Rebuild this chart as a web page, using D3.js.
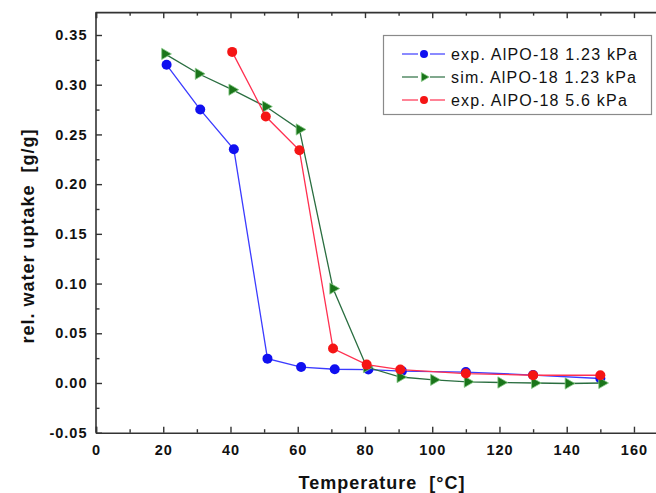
<!DOCTYPE html>
<html>
<head>
<meta charset="utf-8">
<script src="https://cdn.jsdelivr.net/npm/d3@7"></script>
<style>
  body { margin: 0; background: #fff; }
  svg { display: block; font-family: "Liberation Sans", Arial, sans-serif; }
  text { white-space: pre; }
</style>
</head>
<body>
<script>
// data
var expLowT = [21, 31, 41, 51, 61, 71, 81, 91, 110, 130, 150]
var expLowY = [0.320, 0.275, 0.235, 0.0245, 0.016, 0.0138, 0.0135, 0.012, 0.011, 0.008, 0.0045]

var simLowT = [20.5, 30.5, 40.5, 50.5, 60.5, 70.5, 80.5, 90.5, 100.5, 110.5, 120.5, 130.5, 140.5, 150.5]
var simLowY = [0.331, 0.311, 0.295, 0.278, 0.255, 0.095, 0.016, 0.006, 0.0032, 0.0012, 0.0005, 0.0, -0.0005, 0.0]

var expHighT = [40.5, 50.5, 60.5, 70.5, 80.5, 90.5, 110, 130, 150]
var expHighY = [0.333, 0.268, 0.234, 0.0346, 0.0185, 0.0135, 0.0095, 0.0078, 0.0078]

var xMajor = [0, 20, 40, 60, 80, 100, 120, 140, 160]
var xMinor = [10, 30, 50, 70, 90, 110, 130, 150]
var yMajor = [-0.05, 0.00, 0.05, 0.10, 0.15, 0.20, 0.25, 0.30, 0.35]
var yMinor = [-0.025, 0.025, 0.075, 0.125, 0.175, 0.225, 0.275, 0.325]

var seriesNames = ["exp. AlPO-18 1.23 kPa", "sim. AlPO-18 1.23 kPa", "exp. AlPO-18 5.6 kPa"]

var width = 656, height = 493

var svg = d3.select("body").append("svg")
  .attr("width", width)
  .attr("height", height)

var x = d3.scaleLinear().domain([0, 167]).range([96, 657.5])
var y = d3.scaleLinear().domain([-0.05, 0.35]).range([432.7, 35])
var yTop = 0.373

function zip(xs, ys) { return xs.map((t, i) => ({ t: t, v: ys[i] })) }

var series = [
  { name: seriesNames[0], data: zip(expLowT, expLowY), line: "#3b3bff", fill: "#1010f0", shape: "circle" },
  { name: seriesNames[1], data: zip(simLowT, simLowY), line: "#2a6e40", fill: "#1a751a", shape: "tri" },
  { name: seriesNames[2], data: zip(expHighT, expHighY), line: "#ff3050", fill: "#f51515", shape: "circle" }
]

var axisColor = "#333"

// axes
var leftAxis = svg.append("g").attr("transform", "translate(" + x(0) + ",0)")
  .call(d3.axisLeft(y).tickValues(yMajor).tickSize(-6).tickPadding(8.5).tickFormat(d => d3.format(".2f")(d).replace("−", "-")))
leftAxis.select(".domain").attr("d", "M0," + y(yTop) + "V" + y(-0.05))
leftAxis.append("g").call(d3.axisLeft(y).tickValues(yMinor).tickSize(-3.5).tickFormat(""))
  .select(".domain").remove()

var bottomAxis = svg.append("g").attr("transform", "translate(0," + y(-0.05) + ")")
  .call(d3.axisBottom(x).tickValues(xMajor).tickSize(-6).tickPadding(12).tickFormat(d3.format("d")))
bottomAxis.append("g").call(d3.axisBottom(x).tickValues(xMinor).tickSize(-3.5).tickFormat(""))
  .select(".domain").remove()

var topAxis = svg.append("g").attr("transform", "translate(0," + y(yTop) + ")")
  .call(d3.axisTop(x).tickValues(xMajor).tickSize(-6).tickFormat(""))
topAxis.append("g").call(d3.axisTop(x).tickValues(xMinor).tickSize(-3.5).tickFormat(""))
  .select(".domain").remove()

svg.selectAll(".domain").attr("stroke", axisColor).attr("stroke-width", 1.6)
svg.selectAll(".tick line").attr("stroke", axisColor).attr("stroke-width", 1.4)
svg.selectAll(".tick text")
  .attr("fill", "#111")
  .style("font-size", "14.5px")
  .style("font-weight", "bold")
  .style("letter-spacing", "1px")
  .style("font-family", "'Liberation Sans', Arial, sans-serif")

// axis titles
svg.append("text")
  .attr("x", 382).attr("y", 489)
  .attr("text-anchor", "middle")
  .style("font-size", "18px").style("font-weight", "bold").style("letter-spacing", "1px")
  .attr("fill", "#111")
  .text("Temperature  [°C]")

svg.append("text")
  .attr("transform", "translate(34,236) rotate(-90)")
  .attr("text-anchor", "middle")
  .style("font-size", "18px").style("font-weight", "bold").style("letter-spacing", "1px")
  .attr("fill", "#111")
  .text("rel. water uptake  [g/g]")

// lines and markers
var line = d3.line().x(d => x(d.t)).y(d => y(d.v))

function drawMarker(g, s, r) {
  if (s.shape === "circle") {
    g.append("circle").attr("r", r).attr("fill", s.fill)
  } else {
    g.append("path").attr("d", d3.symbol().type(d3.symbolTriangle).size(r * r * 2.2)())
      .attr("transform", "rotate(90)")
      .attr("fill", s.fill).attr("stroke", "#86c986").attr("stroke-width", 0.8)
  }
}

series.forEach(function(s) {
  var g = svg.append("g")
  g.append("path")
    .attr("d", line(s.data))
    .attr("fill", "none")
    .attr("stroke", s.line)
    .attr("stroke-width", 1.3)
  g.selectAll("g.pt").data(s.data).enter().append("g")
    .attr("class", "pt")
    .attr("transform", d => "translate(" + x(d.t) + "," + y(d.v) + ")")
    .each(function() { drawMarker(d3.select(this), s, 5) })
})

// legend
var legend = svg.append("g")
legend.append("rect")
  .attr("x", 383.5).attr("y", 35.5).attr("width", 268).attr("height", 79)
  .attr("fill", "#fff").attr("stroke", "#8a8a8a").attr("stroke-width", 1.2)

series.forEach(function(s, i) {
  var cy = 54 + i * 23
  var row = legend.append("g").attr("transform", "translate(0," + cy + ")")
  row.append("line").attr("x1", 402).attr("x2", 418).attr("stroke", s.line).attr("stroke-width", 1.2)
  row.append("line").attr("x1", 430).attr("x2", 445).attr("stroke", s.line).attr("stroke-width", 1.2)
  var m = row.append("g").attr("transform", "translate(424,0)")
  drawMarker(m, s, 4)
  row.append("text")
    .attr("x", 451).attr("dy", "0.36em")
    .style("font-size", "16px").style("letter-spacing", "1.2px")
    .attr("fill", "#111")
    .text(s.name)
})
</script>
</body>
</html>
